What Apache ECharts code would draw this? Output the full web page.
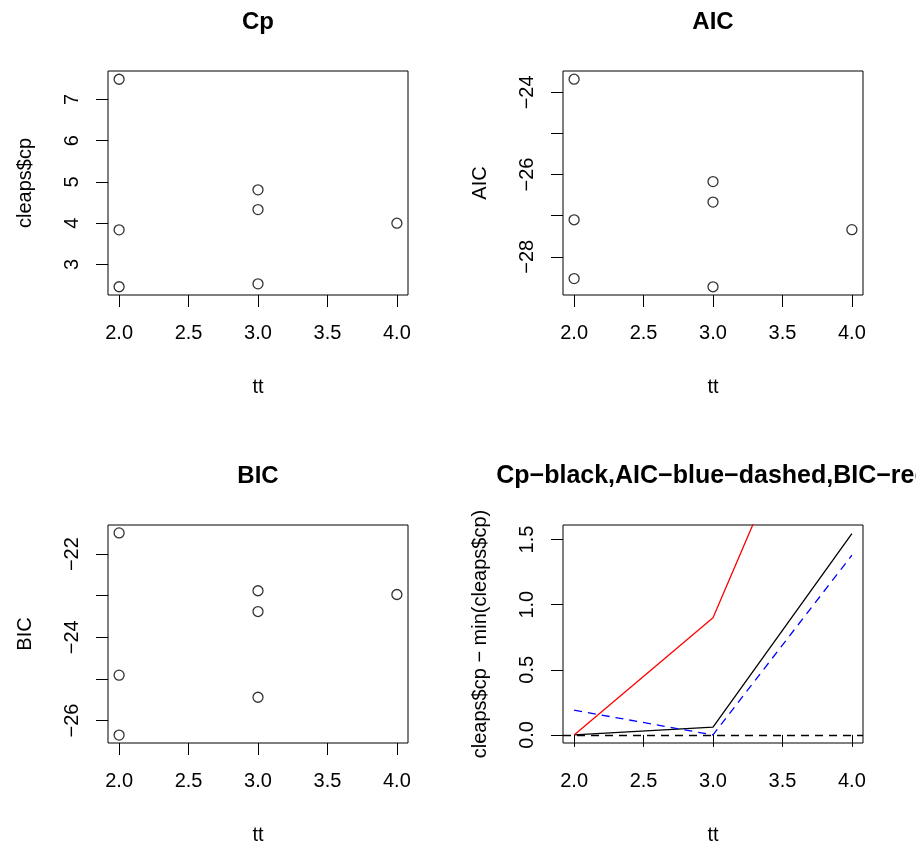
<!DOCTYPE html>
<html>
<head>
<meta charset="utf-8">
<script src="https://cdn.jsdelivr.net/npm/echarts@6/dist/echarts.min.js"></script>
<style>
html, body { margin: 0; padding: 0; background: #fff; }
#chart1 { width: 916px; height: 846px; }
</style>
</head>
<body>
<div id="chart1"></div>
<script>
// number of variables per subset, one entry per fitted model
var tt = [2, 2, 2, 3, 3, 3, 4];
var cpValues  = [7.49, 3.84, 2.46, 4.81, 4.33, 2.53, 4.00];
var aicValues = [-23.68, -27.10, -28.53, -26.17, -26.67, -28.73, -27.34];
var bicValues = [-21.49, -24.91, -26.35, -22.88, -23.38, -25.44, -22.97];

// best-subset curves (value - min) for the last panel
var diffTT  = [2, 3, 4];
var cpDiff  = [0, 0.06, 1.545];
var aicDiff = [0.19, 0, 1.38];
var bicDiff = [0, 0.90, 3.39];

// tick labels
var xTicks    = [2, 2.5, 3, 3.5, 4];
var cpTicks   = [3, 4, 5, 6, 7];
var aicTicks  = [-28, -27, -26, -25, -24];
var aicLabels = [-28, -26, -24];
var bicTicks  = [-26, -25, -24, -23, -22];
var bicLabels = [-26, -24, -22];
var diffTicks = [0, 0.5, 1, 1.5];

var titles = ['Cp', 'AIC', 'BIC', 'Cp\u2212black,AIC\u2212blue\u2212dashed,BIC\u2212red'];
var yNames = ['cleaps$cp', 'AIC', 'BIC', 'cleaps$cp \u2212 min(cleaps$cp)'];

var FONT = '"Liberation Sans", Arial, Helvetica, sans-serif';

var CHART = {
	panels: [
		{left: 108, top: 71,  yMin: 2.26,   yMax: 7.69,   ticks: cpTicks,   labels: cpTicks,   dec: 0, tSize: 24},
		{left: 563, top: 71,  yMin: -28.93, yMax: -23.48, ticks: aicTicks,  labels: aicLabels, dec: 0, tSize: 24},
		{left: 108, top: 525, yMin: -26.54, yMax: -21.30, ticks: bicTicks,  labels: bicLabels, dec: 0, tSize: 24},
		{left: 563, top: 525, yMin: -0.062, yMax: 1.612,  ticks: diffTicks, labels: diffTicks, dec: 1, tSize: 25}
	],
	fmt: function(dec) {
		return function(v) {
			return Number(v).toFixed(dec).replace('-', '\u2212');
		};
	},
	pairs: function(xs, ys) {
		var out = [];
		for(var i = 0; i < xs.length; i++) {
			out.push([xs[i], ys[i]]);
		}
		return out;
	},
	build: function() {
		var that = this;
		var grid = [], xAxis = [], yAxis = [], title = [], series = [];
		for(var i = 0; i < that.panels.length; i++) {
			var p = that.panels[i];
			grid.push({left: p.left, top: p.top, width: 300, height: 224, show: true,
				borderColor: '#000', borderWidth: 1, backgroundColor: 'transparent', containLabel: false});
			title.push({text: titles[i], left: p.left + 150, top: p.top - 61, textAlign: 'center', padding: 0,
				textStyle: {fontFamily: FONT, fontSize: p.tSize, fontWeight: 'bold', color: '#000'}});
			xAxis.push({type: 'value', gridIndex: i, min: 1.92, max: 4.08,
				name: 'tt', nameLocation: 'middle', nameGap: 82,
				nameTextStyle: {fontFamily: FONT, fontSize: 20, color: '#000'},
				axisLine: {show: false}, splitLine: {show: false},
				axisTick: {show: true, length: 12, customValues: xTicks, lineStyle: {color: '#000'}},
				axisLabel: {customValues: xTicks, margin: 28, formatter: that.fmt(1),
					fontFamily: FONT, fontSize: 20, color: '#000'}});
			yAxis.push({type: 'value', gridIndex: i, min: p.yMin, max: p.yMax,
				name: yNames[i], nameLocation: 'middle', nameGap: 73,
				nameTextStyle: {fontFamily: FONT, fontSize: 20, color: '#000'},
				axisLine: {show: false}, splitLine: {show: false},
				axisTick: {show: true, length: 12, customValues: p.ticks, lineStyle: {color: '#000'}},
				axisLabel: {customValues: p.labels, margin: 26, rotate: 90, formatter: that.fmt(p.dec),
					fontFamily: FONT, fontSize: 20, color: '#000'}});
		}
		var scatterData = [cpValues, aicValues, bicValues];
		for(var j = 0; j < 3; j++) {
			series.push({type: 'scatter', xAxisIndex: j, yAxisIndex: j, data: that.pairs(tt, scatterData[j]),
				symbol: 'circle', symbolSize: 10, silent: true,
				itemStyle: {color: 'rgba(0,0,0,0)', borderColor: '#000', borderWidth: 1.3}});
		}
		series.push({type: 'line', xAxisIndex: 3, yAxisIndex: 3, data: that.pairs(diffTT, cpDiff),
			symbol: 'none', silent: true, lineStyle: {color: '#000', width: 1.3},
			markLine: {silent: true, symbol: 'none', label: {show: false},
				lineStyle: {color: '#000', width: 1.3, type: [8, 6]}, data: [{yAxis: 0}]}});
		series.push({type: 'line', xAxisIndex: 3, yAxisIndex: 3, data: that.pairs(diffTT, aicDiff),
			symbol: 'none', silent: true, lineStyle: {color: '#0000ff', width: 1.3, type: [8, 6]}});
		series.push({type: 'line', xAxisIndex: 3, yAxisIndex: 3, data: that.pairs(diffTT, bicDiff),
			symbol: 'none', silent: true, lineStyle: {color: '#ff0000', width: 1.3}});
		return {animation: false, backgroundColor: '#fff', title: title, grid: grid,
			xAxis: xAxis, yAxis: yAxis, series: series};
	},
	init: function() {
		var myChart1 = echarts.init(document.getElementById('chart1'));
		myChart1.setOption(this.build());
	}
};

CHART.init();
</script>
</body>
</html>
